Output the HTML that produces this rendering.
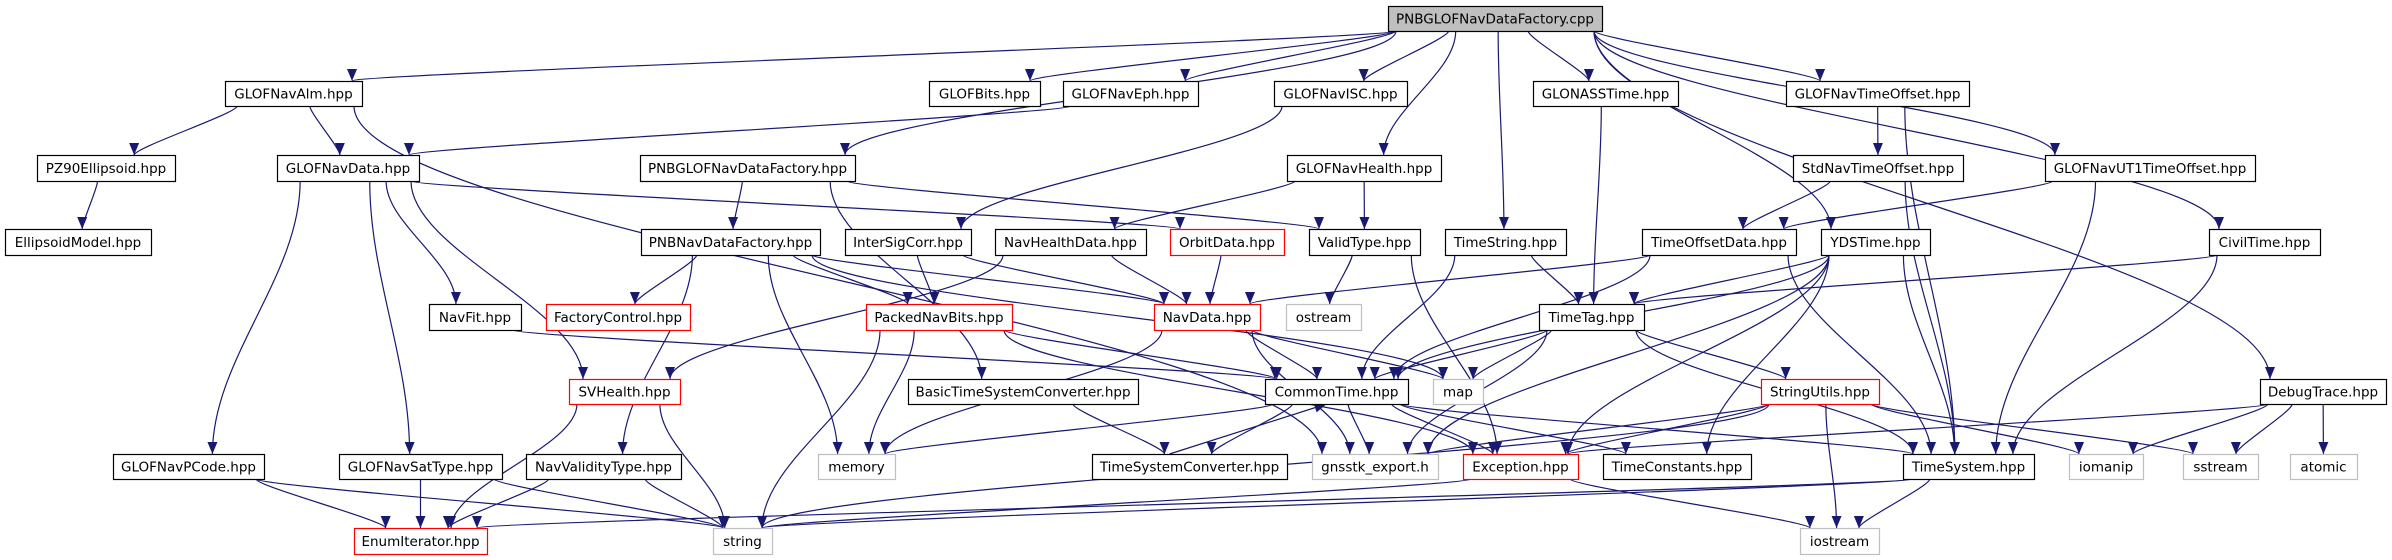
<!DOCTYPE html>
<html><head><meta charset="utf-8"><style>
html,body{margin:0;padding:0;background:#fff;}
svg{display:block;}
text{font-family:"DejaVu Sans","Liberation Sans",sans-serif;font-size:13.5px;fill:#000;}
</style></head><body>
<svg id="g" width="2392" height="560" viewBox="0 0 2392 560" xmlns="http://www.w3.org/2000/svg">
<defs><marker id="a" markerWidth="12" markerHeight="10" refX="12" refY="5" orient="auto" markerUnits="userSpaceOnUse"><path d="M0,0 L12,5 L0,10 z" fill="#191970"/></marker></defs>
<g id="edges" fill="none" stroke="#191970" stroke-width="1.2"></g>
<g id="nodes"></g>
</svg>
<script>
var R=[0,[6,31],[81,106],[155,181],[229,255],[304,330],[379,404],[454,479],[528,554]];
var N={
root:["PNBGLOFNavDataFactory.cpp",1388,1602,1,3],
alm:["GLOFNavAlm.hpp",225,362,2,0],
bits:["GLOFBits.hpp",929,1040,2,0],
eph:["GLOFNavEph.hpp",1063,1198,2,0],
isc:["GLOFNavISC.hpp",1274,1407,2,0],
glot:["GLONASSTime.hpp",1533,1678,2,0],
gto:["GLOFNavTimeOffset.hpp",1786,1969,2,0],
pz:["PZ90Ellipsoid.hpp",37,175,3,0],
gnd:["GLOFNavData.hpp",277,419,3,0],
pfh:["PNBGLOFNavDataFactory.hpp",640,855,3,0],
gnh:["GLOFNavHealth.hpp",1287,1441,3,0],
sto:["StdNavTimeOffset.hpp",1793,1963,3,0],
ut1:["GLOFNavUT1TimeOffset.hpp",2045,2255,3,0],
ell:["EllipsoidModel.hpp",5,151,4,0],
pnb:["PNBNavDataFactory.hpp",641,820,4,0],
isg:["InterSigCorr.hpp",845,971,4,0],
nhd:["NavHealthData.hpp",995,1146,4,0],
orb:["OrbitData.hpp",1170,1284,4,1],
vt:["ValidType.hpp",1309,1420,4,0],
ts:["TimeString.hpp",1445,1566,4,0],
tod:["TimeOffsetData.hpp",1642,1796,4,0],
yds:["YDSTime.hpp",1821,1930,4,0],
civ:["CivilTime.hpp",2209,2320,4,0],
fit:["NavFit.hpp",429,521,5,0],
fc:["FactoryControl.hpp",546,690,5,1],
pnbits:["PackedNavBits.hpp",866,1012,5,1],
nd:["NavData.hpp",1154,1260,5,1],
ost:["ostream",1286,1361,5,2],
tt:["TimeTag.hpp",1539,1644,5,0],
svh:["SVHealth.hpp",569,680,6,1],
btc:["BasicTimeSystemConverter.hpp",908,1138,6,0],
ct:["CommonTime.hpp",1265,1408,6,0],
map:["map",1433,1483,6,2],
su:["StringUtils.hpp",1761,1879,6,1],
dbg:["DebugTrace.hpp",2260,2386,6,0],
pc:["GLOFNavPCode.hpp",113,264,7,0],
sat:["GLOFNavSatType.hpp",339,502,7,0],
nvt:["NavValidityType.hpp",526,681,7,0],
mem:["memory",818,895,7,2],
tsc:["TimeSystemConverter.hpp",1092,1287,7,0],
gx:["gnsstk_export.h",1312,1438,7,2],
exc:["Exception.hpp",1463,1578,7,1],
tcon:["TimeConstants.hpp",1603,1751,7,0],
tsys:["TimeSystem.hpp",1903,2034,7,0],
iom:["iomanip",2069,2143,7,2],
sst:["sstream",2183,2258,7,2],
atm:["atomic",2290,2357,7,2],
ei:["EnumIterator.hpp",354,487,8,1],
str:["string",713,772,8,2],
ios:["iostream",1800,1879,8,2]
};
var E="root>alm root>bits root>eph root>pfh root>isc root>gnh root>glot root>ts root>yds root>gto root>ut1 root>civ root>dbg "+
"alm>pz alm>gnd alm>gx pz>ell eph>gnd gnd>orb gnd>fit gnd>svh gnd>sat gnd>pc "+
"pfh>pnb pfh>vt pfh>btc pnb>fc pnb>pnbits pnb>nd pnb>mem pnb>nvt pnb>map isc>isg gnh>nhd gnh>vt "+
"isg>pnbits isg>nd nhd>nd nhd>svh orb>nd vt>ost vt>exc ts>tt ts>ct glot>tt gto>sto gto>tsys sto>tod sto>tsys "+
"ut1>tod ut1>tsys tod>nd tod>ct tod>tsys yds>tt yds>ct yds>gx yds>exc yds>tcon yds>tsys civ>tt civ>tsys "+
"fit>ct svh>ei svh>str pnbits>mem pnbits>str pnbits>ct pnbits>exc nd>mem nd>ct nd>map nd>gx "+
"tt>ct tt>map tt>gx tt>su tt>tsys ct>mem ct>tsc ct>gx ct>exc ct>tcon ct>tsys btc>tsc tsc>ct "+
"su>exc su>gx su>ios su>str su>iom su>sst dbg>iom dbg>sst dbg>atm dbg>exc exc>str exc>ios "+
"tsys>str tsys>ei tsys>ios pc>ei pc>str sat>ei sat>str nvt>ei nvt>str";
var ns="http://www.w3.org/2000/svg",eg=document.getElementById("edges"),ng=document.getElementById("nodes");
function cx(n){return (n[1]+n[2])/2;}
function clamp(v,a,b){return Math.max(a,Math.min(b,v));}
E.split(" ").forEach(function(p){
 var s=N[p.split(">")[0]],t=N[p.split(">")[1]],d;
 var tr=R[t[3]],sr=R[s[3]];
 if(t[3]>s[3]){
  var sx=clamp(cx(s)+(cx(t)-cx(s))*0.3,s[1]+8,s[2]-8),sy=sr[1];
  var tx=clamp(cx(t)+(cx(s)-cx(t))*0.15,t[1]+10,t[2]-10),ty=tr[0];
  var dy=ty-sy,f=(t[3]-s[3]>1)?0.35:0.15;
  d="M"+sx+","+sy+" C"+sx+","+(sy+dy*f)+" "+tx+","+(ty-dy*f)+" "+tx+","+ty;
 }else if(t[3]<s[3]){
  var sx=cx(s)-20,sy=sr[0],tx=cx(t)-10,ty=tr[1];
  d="M"+sx+","+sy+" L"+tx+","+ty;
 }else{
  var right=cx(t)>cx(s);
  var sx=right?s[2]:s[1],sy=(sr[0]+sr[1])/2,tx=right?t[1]:t[2];
  d="M"+sx+","+sy+" L"+tx+","+sy;
 }
 var e=document.createElementNS(ns,"path");e.setAttribute("d",d);e.setAttribute("marker-end","url(#a)");eg.appendChild(e);
});
for(var k in N){var n=N[k],r=R[n[3]];
 var b=document.createElementNS(ns,"rect");
 b.setAttribute("x",n[1]+0.5);b.setAttribute("y",r[0]+0.5);b.setAttribute("width",n[2]-n[1]);b.setAttribute("height",r[1]-r[0]);
 b.setAttribute("fill",n[4]==3?"#bfbfbf":"#fff");
 b.setAttribute("stroke",n[4]==1?"#ff0000":n[4]==2?"#bfbfbf":"#000");b.setAttribute("stroke-width","1.2");
 ng.appendChild(b);
 var t=document.createElementNS(ns,"text");t.setAttribute("x",cx(n));t.setAttribute("y",(r[0]+r[1])/2+5);
 t.setAttribute("text-anchor","middle");t.textContent=n[0];ng.appendChild(t);
}
</script>
</body></html>
